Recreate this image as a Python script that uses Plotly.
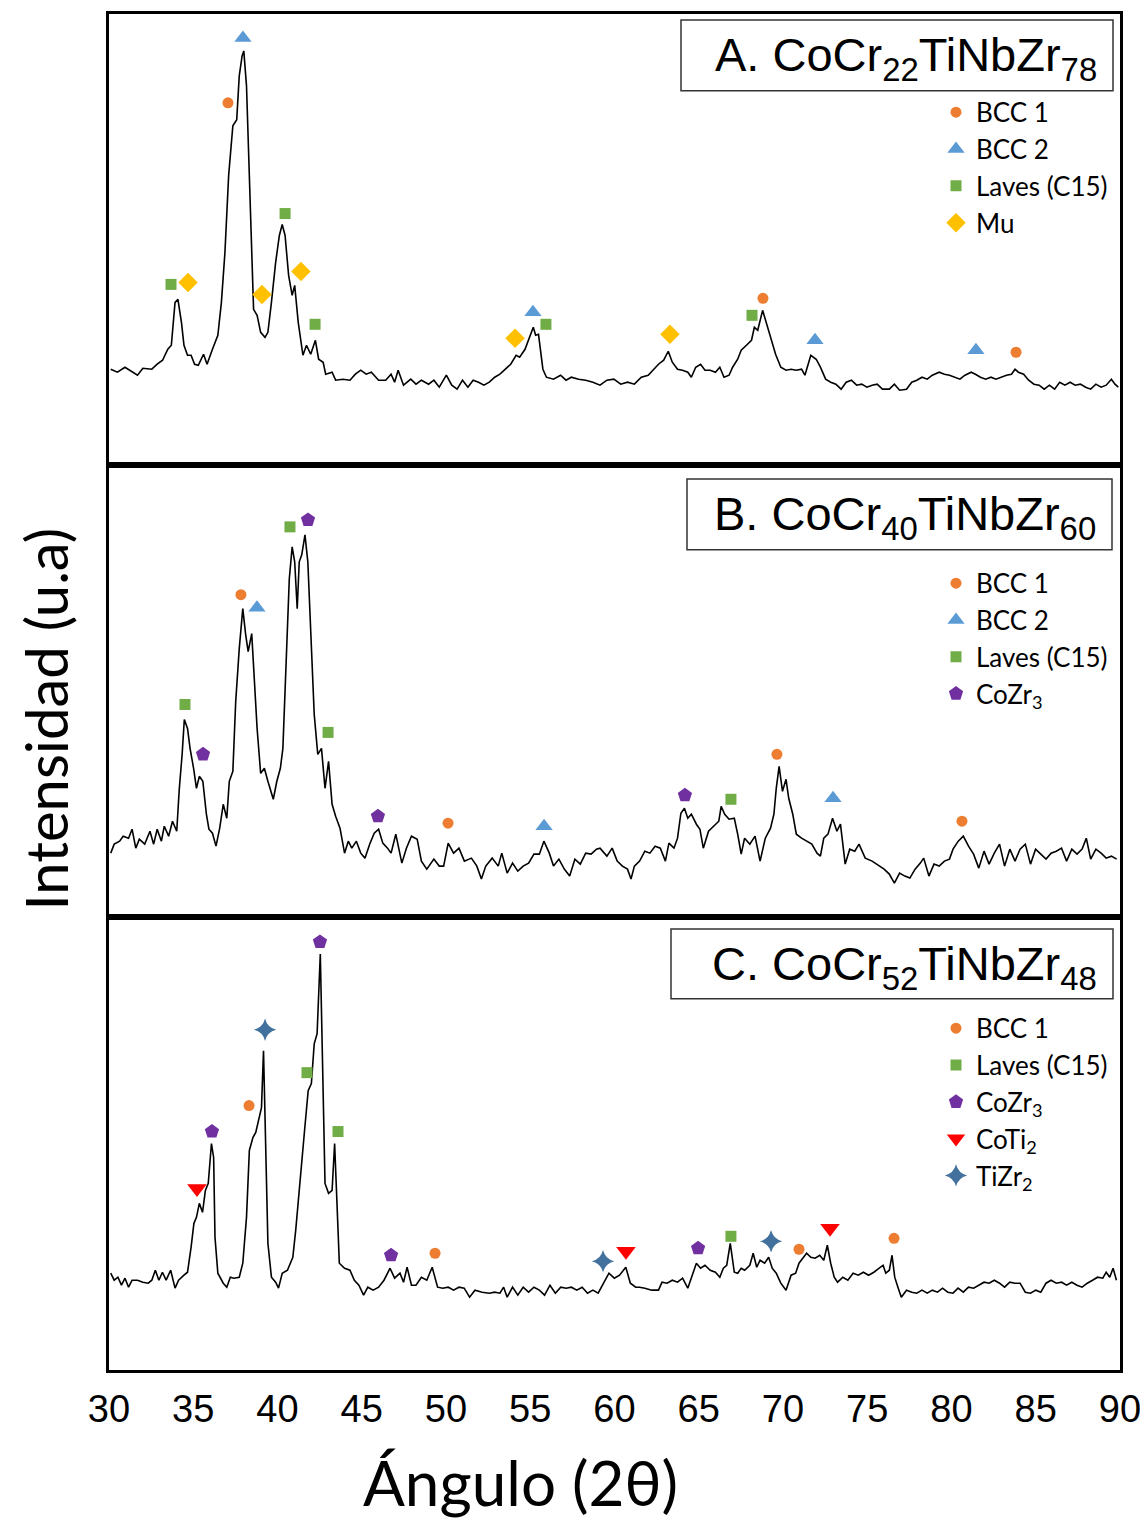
import plotly.graph_objects as go

# ---------------- Data (arbitrary intensity units) ----------------
angle_A = [30.1,30.5,30.95,31.37,31.69,32.01,32.54,32.86,33.18,33.49,33.7,33.92,34.09,34.3,34.45,34.66,34.87,35.08,35.3,35.61,
           35.82,36.14,36.46,36.67,36.88,37.1,37.35,37.58,37.73,37.9,38.0,38.16,38.37,38.58,38.79,39.0,39.26,39.43,39.64,39.89,
           40.11,40.28,40.45,40.66,40.87,41.02,41.23,41.51,41.72,41.97,42.25,42.44,42.71,42.86,43.24,43.45,43.88,44.3,44.62,44.94,
           45.26,45.57,46.0,46.42,46.74,46.95,47.16,47.48,47.91,48.22,48.54,48.97,49.28,49.6,50.02,50.34,50.66,50.98,51.3,51.61,
           51.93,52.25,52.57,52.89,53.2,53.52,53.84,54.16,54.37,54.69,55.01,55.18,55.32,55.49,55.75,55.96,56.38,56.8,57.12,57.44,
           57.87,58.29,58.72,59.14,59.55,59.96,60.37,60.77,61.18,61.59,62.0,62.31,62.61,62.92,63.19,63.43,63.74,64.04,64.35,64.56,
           64.82,65.11,65.37,65.68,65.99,66.25,66.5,66.8,67.01,67.31,67.52,67.83,68.13,68.3,68.5,68.79,69.05,69.26,69.56,69.87,
           70.18,70.48,70.79,71.1,71.3,71.65,71.97,72.22,72.53,72.83,73.14,73.45,73.75,74.06,74.37,74.67,74.98,75.29,75.59,75.9,
           76.31,76.61,76.92,77.33,77.64,77.94,78.25,78.56,78.86,79.27,79.58,79.88,80.19,80.5,80.8,81.17,81.42,81.72,82.03,82.34,
           82.64,82.95,83.26,83.56,83.77,83.97,84.28,84.58,84.89,85.2,85.5,85.81,86.12,86.42,86.73,87.04,87.34,87.65,87.96,88.26,
           88.57,88.88,89.18,89.49,89.7,89.9]
int_A = [96,93,98,93,90,97,96,101,105,116,120,163,166,143,120,110,110,101,100,111,
         101,116,130,163,213,290,340,346,390,410,415,380,263,156,150,133,128,133,163,203,
         230,241,230,190,170,180,143,110,120,111,125,106,103,91,93,85,86,85,91,95,
         91,93,85,85,91,83,95,80,86,81,85,81,85,78,90,80,76,85,78,85,
         83,80,83,88,91,96,101,110,108,116,131,138,130,131,96,88,86,90,85,88,
         86,85,83,80,85,86,81,83,81,88,90,96,101,105,114,103,96,95,93,88,
         98,101,95,95,93,98,88,90,98,106,115,120,125,138,135,155,140,130,111,98,
         95,96,95,96,90,110,106,98,86,83,81,76,83,85,80,81,78,80,81,76,
         76,81,75,76,83,85,88,86,90,93,91,90,88,86,90,93,91,88,86,88,
         86,88,90,91,96,93,91,85,81,80,76,80,76,83,80,83,80,81,78,76,
         81,78,80,86,81,78]

angle_B = [30.1,30.31,30.63,30.84,31.16,31.37,31.59,31.8,32.12,32.43,32.65,32.86,33.11,33.28,33.54,33.77,34.02,34.17,34.34,34.47,
           34.66,34.81,35.02,35.19,35.36,35.57,35.78,35.93,36.14,36.35,36.57,36.78,36.99,37.14,37.35,37.52,37.73,37.94,38.11,38.26,
           38.47,38.62,38.79,39.0,39.22,39.43,39.6,39.75,39.96,40.17,40.32,40.49,40.7,40.87,41.02,41.17,41.29,41.44,41.63,41.8,
           41.97,42.18,42.39,42.61,42.82,43.03,43.24,43.45,43.71,43.98,44.2,44.41,44.68,44.94,45.19,45.47,45.74,46.0,46.25,46.53,
           46.74,47.02,47.38,47.65,47.95,48.29,48.54,48.86,49.28,49.6,49.86,50.13,50.45,50.77,51.09,51.51,51.83,52.1,52.36,52.74,
           53.1,53.31,53.63,53.95,54.26,54.58,54.9,55.22,55.54,55.81,56.13,56.38,56.7,57.02,57.34,57.65,57.97,58.29,58.61,58.93,
           59.14,59.55,59.86,60.16,60.47,60.77,60.98,61.18,61.49,61.8,62.1,62.41,62.72,63.02,63.23,63.53,63.74,63.94,64.15,64.35,
           64.56,64.86,65.07,65.27,65.58,65.88,66.19,66.33,66.54,66.8,67.11,67.31,67.52,67.72,68.03,68.34,68.64,68.95,69.26,69.46,
           69.6,69.77,69.97,70.18,70.34,70.58,70.79,71.1,71.4,71.71,72.02,72.22,72.42,72.67,72.94,73.2,73.41,73.69,73.96,74.26,
           74.51,74.88,75.29,75.69,76.0,76.31,76.61,76.92,77.23,77.53,77.84,78.15,78.35,78.66,78.96,79.27,79.58,79.88,80.09,80.4,
           80.7,81.01,81.31,81.62,81.93,82.23,82.54,82.85,83.15,83.46,83.77,84.07,84.38,84.69,84.99,85.3,85.61,85.91,86.22,86.53,
           86.83,87.14,87.45,87.75,88.0,88.26,88.57,88.88,89.18,89.49,89.8]
int_B = [64,73,76,81,79,88,69,78,73,86,73,88,76,91,81,96,86,128,163,198,
         189,169,149,129,141,136,103,88,84,71,89,113,99,136,146,216,269,309,283,266,
         284,243,189,144,149,136,126,118,136,149,169,249,339,371,356,309,356,363,383,356,
         279,203,163,169,129,156,113,101,89,64,76,69,76,64,59,73,84,88,74,69,
         64,83,54,69,81,78,56,48,58,51,51,74,64,69,56,59,51,38,51,59,
         51,64,44,54,46,51,54,63,63,76,64,51,58,48,41,58,53,64,63,68,
         69,61,69,56,51,48,38,51,56,66,64,71,69,56,74,69,79,104,109,99,
         103,93,88,69,86,91,96,111,103,98,99,83,63,79,73,81,56,79,89,103,
         129,151,126,138,119,103,83,79,76,73,64,61,79,83,99,86,93,53,68,66,
         73,59,56,51,48,43,34,44,41,39,48,54,59,41,53,51,56,58,68,76,
         81,71,63,49,66,53,64,73,51,68,56,68,73,53,68,63,58,64,66,69,
         56,68,63,68,79,58,68,64,59,61,58]

angle_C = [30.1,30.31,30.53,30.74,30.95,31.16,31.37,31.69,32.01,32.33,32.54,32.75,32.96,33.17,33.39,33.66,33.92,34.13,34.45,34.66,
           34.87,35.04,35.19,35.36,35.55,35.72,35.89,36.08,36.21,36.29,36.46,36.78,36.99,37.2,37.41,37.73,37.94,38.16,38.33,38.54,
           38.71,38.9,39.05,39.17,39.28,39.43,39.64,39.89,40.06,40.28,40.59,40.91,41.08,41.34,41.59,41.82,42.01,42.18,42.35,42.54,
           42.65,42.82,43.03,43.24,43.39,43.52,43.67,43.98,44.3,44.56,44.83,45.11,45.36,45.68,46.0,46.32,46.68,46.95,47.27,47.48,
           47.69,47.95,48.22,48.54,48.86,49.18,49.5,49.81,50.13,50.45,50.77,51.08,51.4,51.72,52.14,52.57,52.89,53.2,53.42,53.63,
           53.95,54.26,54.58,54.9,55.22,55.54,55.85,56.17,56.49,56.81,57.13,57.44,57.76,58.08,58.4,58.72,59.03,59.35,59.67,59.99,
           60.3,60.67,60.94,61.26,61.49,61.8,62.21,62.61,62.82,63.12,63.43,63.74,64.04,64.35,64.66,64.86,65.11,65.37,65.68,65.99,
           66.25,66.46,66.66,66.87,67.11,67.31,67.52,67.72,68.03,68.23,68.44,68.64,68.91,69.15,69.36,69.6,69.87,70.18,70.48,70.75,
           70.95,71.2,71.4,71.65,71.91,72.18,72.42,72.63,72.83,73.04,73.24,73.55,73.85,74.16,74.47,74.77,75.08,75.39,75.69,75.94,
           76.1,76.31,76.47,76.63,76.82,77.02,77.33,77.64,77.94,78.25,78.56,78.86,79.17,79.47,79.78,80.09,80.39,80.7,81.01,81.31,
           81.62,81.93,82.23,82.54,82.85,83.15,83.46,83.77,84.07,84.38,84.69,85.0,85.3,85.61,85.91,86.22,86.53,86.83,87.14,87.45,
           87.75,88.06,88.37,88.67,88.98,89.18,89.39,89.59,89.79]
int_C = [97,90,93,85,92,83,90,90,88,87,90,100,90,98,90,100,82,90,95,98,
         123,147,153,167,158,180,187,227,213,133,97,87,83,93,92,93,107,153,220,233,
         238,253,263,320,247,127,93,88,82,97,100,113,140,193,237,280,287,327,337,417,
         327,187,177,180,227,177,107,102,100,90,85,75,83,80,83,90,102,92,97,88,
         103,85,85,93,90,103,83,82,83,80,83,82,73,80,78,77,78,77,83,73,
         83,75,83,78,83,80,75,85,77,83,82,83,80,83,77,80,77,87,97,92,
         95,103,87,83,83,82,80,80,88,87,90,88,92,82,97,107,102,105,100,98,
         93,102,105,127,98,97,102,100,105,117,103,110,107,113,102,97,87,80,95,97,
         107,112,117,113,112,115,110,125,107,93,88,93,90,97,95,98,95,98,102,105,
         97,100,115,93,83,73,80,78,77,80,77,80,78,82,78,77,82,78,83,82,
         85,88,87,90,87,83,88,87,87,78,77,80,78,87,90,87,88,85,88,85,
         83,87,90,93,92,98,93,102,90]

# Phase markers: [angle], [intensity] per panel
A_bcc1_x, A_bcc1_y = [37.06, 68.81, 83.83], [363, 167, 113]
A_bcc2_x, A_bcc2_y = [37.95, 55.16, 71.9, 81.45], [428, 153, 125, 115]
A_lav_x, A_lav_y = [33.68, 40.45, 42.23, 55.93, 68.16], [181, 252, 141, 141, 150]
A_mu_x, A_mu_y = [34.69, 39.08, 41.39, 54.1, 63.29], [183, 171, 194, 127, 131]

B_bcc1_x, B_bcc1_y = [37.83, 50.12, 69.64, 80.62], [323, 94, 163, 96]
B_bcc2_x, B_bcc2_y = [38.78, 55.82, 72.97], [310, 91, 119]
B_lav_x, B_lav_y = [34.51, 40.74, 43.0, 66.91], [213, 391, 185, 118]
B_cozr_x, B_cozr_y = [35.58, 41.81, 45.96, 64.18], [163, 398, 101, 122]

C_bcc1_x, C_bcc1_y = [38.31, 49.35, 70.95, 76.59], [265, 117, 121, 132]
C_lav_x, C_lav_y = [41.75, 43.59, 66.91], [298, 239, 134]
C_cozr_x, C_cozr_y = [36.11, 42.52, 46.74, 64.96], [239, 429, 115, 122]
C_coti_x, C_coti_y = [35.22, 60.68, 72.79], [182, 119, 142]
C_tizr_x, C_tizr_y = [39.26, 59.32, 69.29], [341, 109, 129]

x_ticks = [30, 35, 40, 45, 50, 55, 60, 65, 70, 75, 80, 85, 90]
panel_titles = ["A. CoCr<sub>22</sub>TiNbZr<sub>78</sub>",
                "B. CoCr<sub>40</sub>TiNbZr<sub>60</sub>",
                "C. CoCr<sub>52</sub>TiNbZr<sub>48</sub>"]

# ---------------- Styles ----------------
ORANGE, BLUE, GREEN, YELLOW = "#ED7D31", "#5B9BD5", "#70AD47", "#FFC000"
PURPLE, RED, STEEL = "#7030A0", "#FF0000", "#41719C"
LEG_FONT = "Lato, 'Open Sans', sans-serif"
ARIAL = "'Liberation Sans', Arial, sans-serif"

fig = go.Figure()

panels = [("", "y", angle_A, int_A),
          ("2", "y2", angle_B, int_B),
          ("3", "y3", angle_C, int_C)]
for suf, yref, ax, ay in panels:
    fig.add_trace(go.Scatter(x=ax, y=ay, mode="lines", line=dict(color="black", width=1.6),
                             xaxis="x" + suf, yaxis=yref, showlegend=False, hoverinfo="skip"))

def mk(x, y, name, symbol, color, size, suf, leg):
    fig.add_trace(go.Scatter(x=x, y=y, mode="markers", name=name,
                             marker=dict(symbol=symbol, color=color, size=size, line=dict(width=0)),
                             xaxis="x" + suf, yaxis="y" + suf, legend=leg))

mk(A_bcc1_x, A_bcc1_y, "BCC 1", "circle", ORANGE, 11, "", "legend")
mk(A_bcc2_x, A_bcc2_y, "BCC 2", "triangle-up", BLUE, 15, "", "legend")
mk(A_lav_x, A_lav_y, "Laves (C15)", "square", GREEN, 11, "", "legend")
mk(A_mu_x, A_mu_y, "Mu", "diamond", YELLOW, 15, "", "legend")

mk(B_bcc1_x, B_bcc1_y, "BCC 1", "circle", ORANGE, 11, "2", "legend2")
mk(B_bcc2_x, B_bcc2_y, "BCC 2", "triangle-up", BLUE, 15, "2", "legend2")
mk(B_lav_x, B_lav_y, "Laves (C15)", "square", GREEN, 11, "2", "legend2")
mk(B_cozr_x, B_cozr_y, "CoZr<sub>3</sub>", "pentagon", PURPLE, 15, "2", "legend2")

mk(C_bcc1_x, C_bcc1_y, "BCC 1", "circle", ORANGE, 11, "3", "legend3")
mk(C_lav_x, C_lav_y, "Laves (C15)", "square", GREEN, 11, "3", "legend3")
mk(C_cozr_x, C_cozr_y, "CoZr<sub>3</sub>", "pentagon", PURPLE, 15, "3", "legend3")
mk(C_coti_x, C_coti_y, "CoTi<sub>2</sub>", "triangle-down", RED, 17, "3", "legend3")
mk(C_tizr_x, C_tizr_y, "TiZr<sub>2</sub>", "star-diamond", STEEL, 16, "3", "legend3")

H_PLOT = 1359.0
domC = [0, 454 / H_PLOT]
domB = [454 / H_PLOT, 907 / H_PLOT]
domA = [907 / H_PLOT, 1]

axis_common = dict(showline=True, mirror=True, linecolor="black", linewidth=2.5,
                   showgrid=False, zeroline=False)
xcommon = dict(axis_common, range=[30, 90], tickvals=x_ticks)

legend_common = dict(font=dict(family=LEG_FONT, size=26, color="black"),
                     bgcolor="rgba(0,0,0,0)", borderwidth=0, xanchor="left", yanchor="top",
                     itemwidth=30, tracegroupgap=0)

def py_to_paper(py):
    return 1 - (py - 11) / H_PLOT

def px_to_paper(px):
    return (px - 109) / 1011.0

lx = px_to_paper(936)
# the page body adds an 8px offset; the figure is sized to compensate
fig.update_layout(
    width=1140, height=1512,
    margin=dict(l=101, r=28, t=3, b=150),
    paper_bgcolor="white", plot_bgcolor="white",
    xaxis=dict(xcommon, anchor="y", showticklabels=False, ticks=""),
    xaxis2=dict(xcommon, anchor="y2", matches="x3", showticklabels=False, ticks=""),
    xaxis3=dict(xcommon, anchor="y3", ticks="", ticklabelstandoff=4,
                tickfont=dict(family=ARIAL, size=38, color="black")),
    yaxis=dict(axis_common, domain=domA, range=[0, 452], showticklabels=False, ticks=""),
    yaxis2=dict(axis_common, domain=domB, range=[0, 453], showticklabels=False, ticks=""),
    yaxis3=dict(axis_common, domain=domC, range=[0, 454], showticklabels=False, ticks=""),
    legend=dict(legend_common, x=lx, y=py_to_paper(86)),
    legend2=dict(legend_common, x=lx, y=py_to_paper(558)),
    legend3=dict(legend_common, x=lx, y=py_to_paper(1004)),
    showlegend=True,
)

# Title boxes
boxes = [(681, 17, 1113, 88), (687, 477, 1112, 548), (671, 928, 1113, 998)]
for (x0, y0, x1, y1), title in zip(boxes, panel_titles):
    fig.add_shape(type="rect", xref="paper", yref="paper",
                  x0=px_to_paper(x0), x1=px_to_paper(x1),
                  y0=py_to_paper(y1), y1=py_to_paper(y0),
                  line=dict(color="#333333", width=1.5), fillcolor="white", layer="above")
    fig.add_annotation(text=title, xref="paper", yref="paper",
                       x=px_to_paper(x1 - 14), y=py_to_paper((y0 + y1) / 2 + 3),
                       xanchor="right", yanchor="middle", showarrow=False,
                       font=dict(family=ARIAL, size=47, color="black"))

fig.add_annotation(text="Intensidad (u.a)", xref="paper", yref="paper",
                   x=px_to_paper(45), y=py_to_paper(718), textangle=-90,
                   xanchor="center", yanchor="middle", showarrow=False,
                   font=dict(family=LEG_FONT, size=58, color="black"))
fig.add_annotation(text="Ángulo (2θ)", xref="paper", yref="paper",
                   x=px_to_paper(520), y=py_to_paper(1482),
                   xanchor="center", yanchor="middle", showarrow=False,
                   font=dict(family=LEG_FONT, size=62, color="black"))

fig.write_html("out.html")
